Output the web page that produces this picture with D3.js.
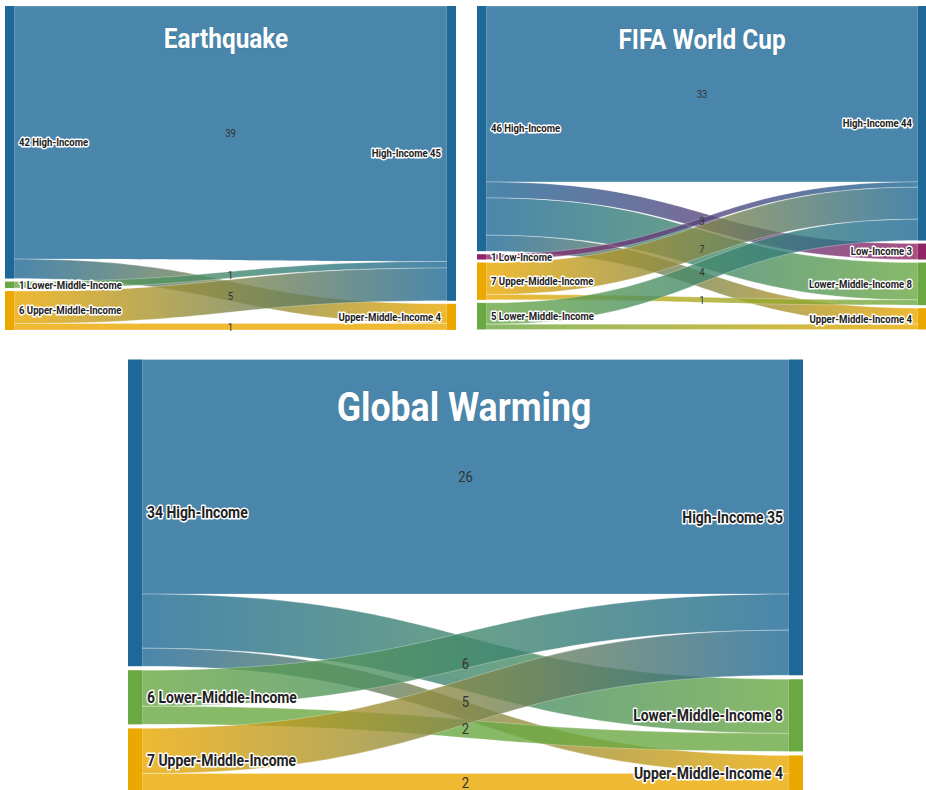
<!DOCTYPE html>
<html>
<head>
<meta charset="utf-8">
<script src="https://cdn.jsdelivr.net/npm/d3@7"></script>
<style>
  html, body { margin: 0; padding: 0; background: #fff; }
  svg { display: block; }
  text { font-family: Roboto, "Noto Sans", "DejaVu Sans", sans-serif; }
</style>
</head>
<body>
<svg id="chart" width="926" height="790"></svg>
<script>
// ---------------- DATA ----------------
const categories = ["High-Income", "Low-Income", "Lower-Middle-Income", "Upper-Middle-Income"];
const categoryColors = ["#1d6896", "#902464", "#6aa842", "#eaa800"];

// Earthquake
const eqLeftNodes  = ["High-Income", "Lower-Middle-Income", "Upper-Middle-Income"];
const eqRightNodes = ["High-Income", "Upper-Middle-Income"];
const eqLinkSource = ["High-Income", "High-Income", "Lower-Middle-Income", "Upper-Middle-Income", "Upper-Middle-Income"];
const eqLinkTarget = ["High-Income", "Upper-Middle-Income", "High-Income", "High-Income", "Upper-Middle-Income"];
const eqLinkValue  = [39, 3, 1, 5, 1];
const eqLinkShown  = [true, false, true, true, true];

// FIFA World Cup
const fifaLeftNodes  = ["High-Income", "Low-Income", "Upper-Middle-Income", "Lower-Middle-Income"];
const fifaRightNodes = ["High-Income", "Low-Income", "Lower-Middle-Income", "Upper-Middle-Income"];
const fifaLinkSource = ["High-Income", "High-Income", "High-Income", "High-Income", "Low-Income", "Upper-Middle-Income", "Upper-Middle-Income", "Lower-Middle-Income", "Lower-Middle-Income"];
const fifaLinkTarget = ["High-Income", "Low-Income", "Lower-Middle-Income", "Upper-Middle-Income", "High-Income", "High-Income", "Lower-Middle-Income", "High-Income", "Upper-Middle-Income"];
const fifaLinkValue  = [33, 3, 7, 3, 1, 6, 1, 4, 1];
const fifaLinkShown  = [true, true, true, false, false, false, true, true, false];

// Global Warming
const gwLeftNodes  = ["High-Income", "Lower-Middle-Income", "Upper-Middle-Income"];
const gwRightNodes = ["High-Income", "Lower-Middle-Income", "Upper-Middle-Income"];
const gwLinkSource = ["High-Income", "High-Income", "High-Income", "Lower-Middle-Income", "Lower-Middle-Income", "Upper-Middle-Income", "Upper-Middle-Income"];
const gwLinkTarget = ["High-Income", "Lower-Middle-Income", "Upper-Middle-Income", "High-Income", "Lower-Middle-Income", "High-Income", "Upper-Middle-Income"];
const gwLinkValue  = [26, 6, 2, 4, 2, 5, 2];
const gwLinkShown  = [true, true, false, false, true, true, true];

const panelTitles = ["Earthquake", "FIFA World Cup", "Global Warming"];

// ---------------- LAYOUT ----------------
const SX = 0.87; // condensed look
const panels = [
  { title: panelTitles[0], left: eqLeftNodes, right: eqRightNodes, src: eqLinkSource, tgt: eqLinkTarget, val: eqLinkValue, shown: eqLinkShown,
    x0: 5, x1: 456, y0: 6, y1: 330, nodeW: 9, pad: 3, titleSize: 28, titleX: 226, titleY: 48, labelSize: 11, valueSize: 11 },
  { title: panelTitles[1], left: fifaLeftNodes, right: fifaRightNodes, src: fifaLinkSource, tgt: fifaLinkTarget, val: fifaLinkValue, shown: fifaLinkShown,
    x0: 477, x1: 927, y0: 6, y1: 329.5, nodeW: 9, pad: 3, titleSize: 28, titleX: 702, titleY: 49, labelSize: 11, valueSize: 11 },
  { title: panelTitles[2], left: gwLeftNodes, right: gwRightNodes, src: gwLinkSource, tgt: gwLinkTarget, val: gwLinkValue, shown: gwLinkShown,
    x0: 128, x1: 803, y0: 359.5, y1: 791.5, nodeW: 14, pad: 4, titleSize: 41, titleX: 464, titleY: 421, labelSize: 16, valueSize: 15 }
];

const color = d3.scaleOrdinal().domain(categories).range(categoryColors);
const svg = d3.select("#chart");
const defs = svg.append("defs");
let gradId = 0;

function place(sel, fx, fy) {
  sel.attr("x", 0).attr("y", 0)
     .attr("transform", d => `translate(${fx(d)},${fy(d)}) scale(${SX},1)`);
}

panels.forEach((p, pi) => {
  const g = svg.append("g");
  const links = p.val.map((v, i) => ({ source: p.src[i], target: p.tgt[i], value: v, shown: p.shown[i] }));

  function buildColumn(names, isLeft) {
    const totals = names.map(n => d3.sum(links.filter(l => (isLeft ? l.source : l.target) === n), l => l.value));
    const total = d3.sum(totals);
    const avail = (p.y1 - p.y0) - (names.length - 1) * p.pad;
    const y = d3.scaleLinear().domain([0, total]).range([0, avail]);
    let cum = 0;
    return names.map((n, i) => {
      const node = { name: n, value: totals[i], index: i, scale: y,
        y0: p.y0 + y(cum) + i * p.pad };
      cum += totals[i];
      node.y1 = p.y0 + y(cum) + i * p.pad;
      return node;
    });
  }
  const leftCol = buildColumn(p.left, true);
  const rightCol = buildColumn(p.right, false);
  const lByName = new Map(leftCol.map(n => [n.name, n]));
  const rByName = new Map(rightCol.map(n => [n.name, n]));
  links.forEach(l => { l.s = lByName.get(l.source); l.t = rByName.get(l.target); });

  leftCol.forEach(n => {
    let y = n.y0;
    links.filter(l => l.s === n).sort((a, b) => a.t.index - b.t.index).forEach(l => {
      const h = n.scale(l.value) - n.scale(0);
      l.sy0 = y; l.sy1 = y + h; y += h;
    });
  });
  rightCol.forEach(n => {
    let y = n.y0;
    links.filter(l => l.t === n).sort((a, b) => a.s.index - b.s.index).forEach(l => {
      const h = n.scale(l.value) - n.scale(0);
      l.ty0 = y; l.ty1 = y + h; y += h;
    });
  });

  const xL = p.x0 + p.nodeW, xR = p.x1 - p.nodeW;
  const xScale = d3.scaleLinear().domain([0, 1]).range([xL, xR]);
  const xm = xScale(0.5);

  links.forEach(l => {
    const id = "grad" + (gradId++);
    const gr = defs.append("linearGradient").attr("id", id)
      .attr("gradientUnits", "userSpaceOnUse")
      .attr("x1", xScale(0)).attr("x2", xScale(1)).attr("y1", 0).attr("y2", 0);
    gr.append("stop").attr("offset", "0%").attr("stop-color", color(l.source));
    gr.append("stop").attr("offset", "100%").attr("stop-color", color(l.target));
    l.grad = id;
  });

  g.selectAll("path.link").data(links).join("path")
    .attr("class", "link")
    .attr("d", l => {
      const a = xScale(0), b = xScale(1);
      return `M${a},${l.sy0}C${xm},${l.sy0} ${xm},${l.ty0} ${b},${l.ty0}` +
             `L${b},${l.ty1}C${xm},${l.ty1} ${xm},${l.sy1} ${a},${l.sy1}Z`;
    })
    .attr("fill", l => `url(#${l.grad})`)
    .attr("fill-opacity", 0.8)
    .attr("stroke", "#ffffff")
    .attr("stroke-opacity", 0.35)
    .attr("stroke-width", 0.8);

  const allNodes = leftCol.map(n => ({ ...n, side: "L" })).concat(rightCol.map(n => ({ ...n, side: "R" })));
  g.selectAll("rect.node").data(allNodes).join("rect")
    .attr("class", "node")
    .attr("x", n => n.side === "L" ? p.x0 : p.x1 - p.nodeW)
    .attr("y", n => n.y0)
    .attr("width", p.nodeW)
    .attr("height", n => Math.max(1, n.y1 - n.y0))
    .attr("fill", n => color(n.name));

  g.selectAll("text.title").data([p.title]).join("text")
    .attr("class", "title")
    .call(place, () => p.titleX, () => p.titleY)
    .attr("text-anchor", "middle")
    .attr("font-size", p.titleSize)
    .attr("font-weight", "bold")
    .attr("fill", "#ffffff")
    .attr("stroke", "#3d6f8f")
    .attr("stroke-width", 1)
    .attr("stroke-opacity", 0.5)
    .attr("paint-order", "stroke")
    .text(d => d);

  g.selectAll("text.val").data(links.filter(l => l.shown)).join("text")
    .attr("class", "val")
    .call(place, () => xm, l => ((l.sy0 + l.sy1) / 2 + (l.ty0 + l.ty1) / 2) / 2)
    .attr("dy", "0.35em")
    .attr("text-anchor", "middle")
    .attr("font-size", p.valueSize)
    .attr("fill", "#333333")
    .text(l => l.value);

  g.selectAll("text.nlab").data(allNodes).join("text")
    .attr("class", "nlab")
    .call(place, n => n.side === "L" ? p.x0 + p.nodeW + 5 : p.x1 - p.nodeW - 6, n => (n.y0 + n.y1) / 2)
    .attr("dy", "0.35em")
    .attr("text-anchor", n => n.side === "L" ? "start" : "end")
    .attr("font-size", p.labelSize)
    .attr("font-weight", "bold")
    .attr("fill", "#222222")
    .attr("stroke", "#ffffff")
    .attr("stroke-width", 3)
    .attr("stroke-linejoin", "round")
    .attr("paint-order", "stroke")
    .text(n => n.side === "L" ? `${n.value} ${n.name}` : `${n.name} ${n.value}`);
});
</script>
</body>
</html>
